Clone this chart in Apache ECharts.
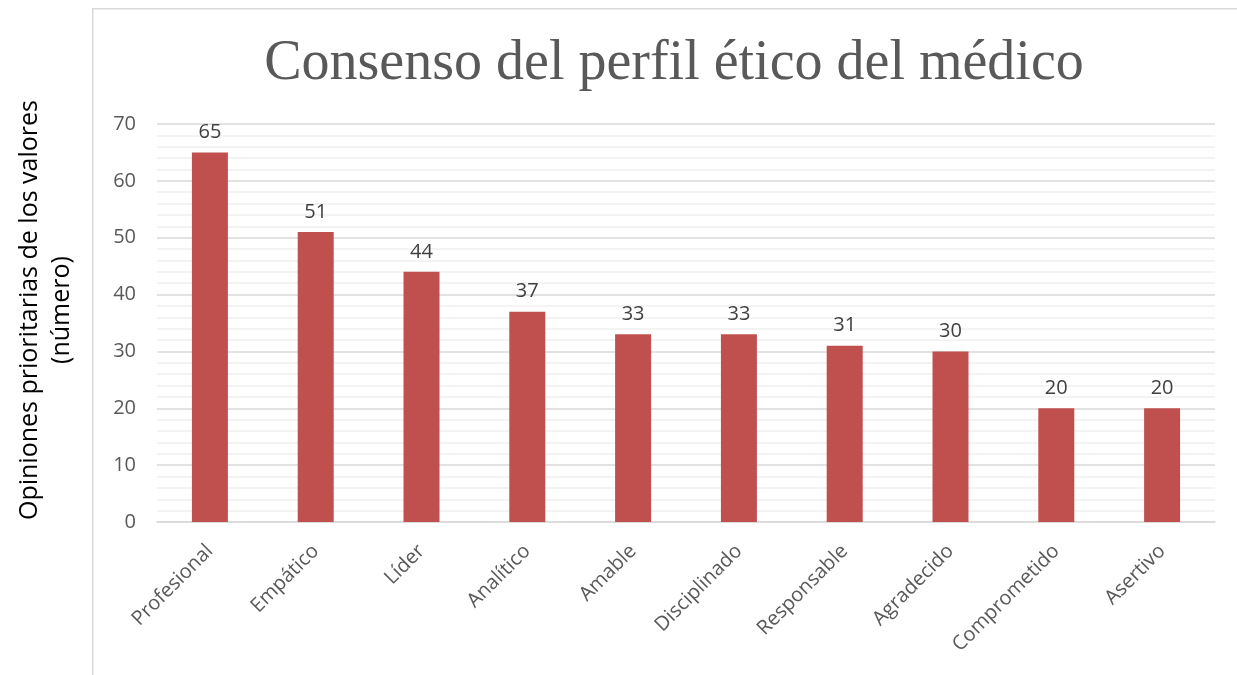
<!DOCTYPE html>
<html>
<head>
<meta charset="utf-8">
<script src="https://cdn.jsdelivr.net/npm/echarts@6/dist/echarts.min.js"></script>
<style>html,body{margin:0;padding:0;background:#fff}#c{width:1237px;height:675px}</style>
</head>
<body>
<div id="c"></div>
<script>
const categories = ['Profesional','Empático','Líder','Analítico','Amable','Disciplinado','Responsable','Agradecido','Comprometido','Asertivo'];
const values = [65,51,44,37,33,33,31,30,20,20];
const yTicks = [0,10,20,30,40,50,60,70];

const chart = echarts.init(document.getElementById('c'));
chart.setOption({
  animation: false,
  graphic: [{
    type: 'rect', left: 92, top: 8, z: -1,
    shape: {width: 1200, height: 720},
    style: {fill: '#fff', stroke: '#d9d9d9', lineWidth: 1.5}
  }],
  title: {
    text: 'Consenso del perfil ético del médico',
    left: 669, top: 31, textAlign: 'center',
    textStyle: {fontFamily: 'Liberation Serif', fontSize: 56, fontWeight: 'normal', color: '#595959'}
  },
  grid: {left: 157, right: 22, top: 124, bottom: 153, containLabel: false, outerBoundsMode: 'none'},
  xAxis: {
    type: 'category', data: categories,
    axisLine: {lineStyle: {color: '#d9d9d9', width: 1.5}},
    axisTick: {show: false},
    axisLabel: {rotate: 45, interval: 0, fontFamily: 'Open Sans', fontSize: 20, color: '#595959', margin: 26}
  },
  yAxis: {
    type: 'value', min: yTicks[0], max: yTicks[yTicks.length-1], interval: 10,
    name: 'Opiniones prioritarias de los valores\n(número)',
    nameLocation: 'middle', nameRotate: 90, nameGap: 79,
    nameTextStyle: {fontFamily: 'Open Sans', fontSize: 25, color: '#000', lineHeight: 32, padding: [0, 0, 0, 26]},
    axisLine: {show: false}, axisTick: {show: false},
    axisLabel: {fontFamily: 'Open Sans', fontSize: 20, color: '#595959', margin: 21},
    splitLine: {lineStyle: {color: '#d9d9d9', width: 1.5}},
    minorTick: {show: false, splitNumber: 5},
    minorSplitLine: {show: true, lineStyle: {color: '#efefef', width: 1.5}}
  },
  series: [{
    type: 'bar', data: values, barWidth: 36,
    itemStyle: {color: '#c0504d'},
    label: {show: true, position: 'top', distance: 10, fontFamily: 'Open Sans', fontSize: 20, color: '#404040'}
  }]
});
</script>
</body>
</html>
